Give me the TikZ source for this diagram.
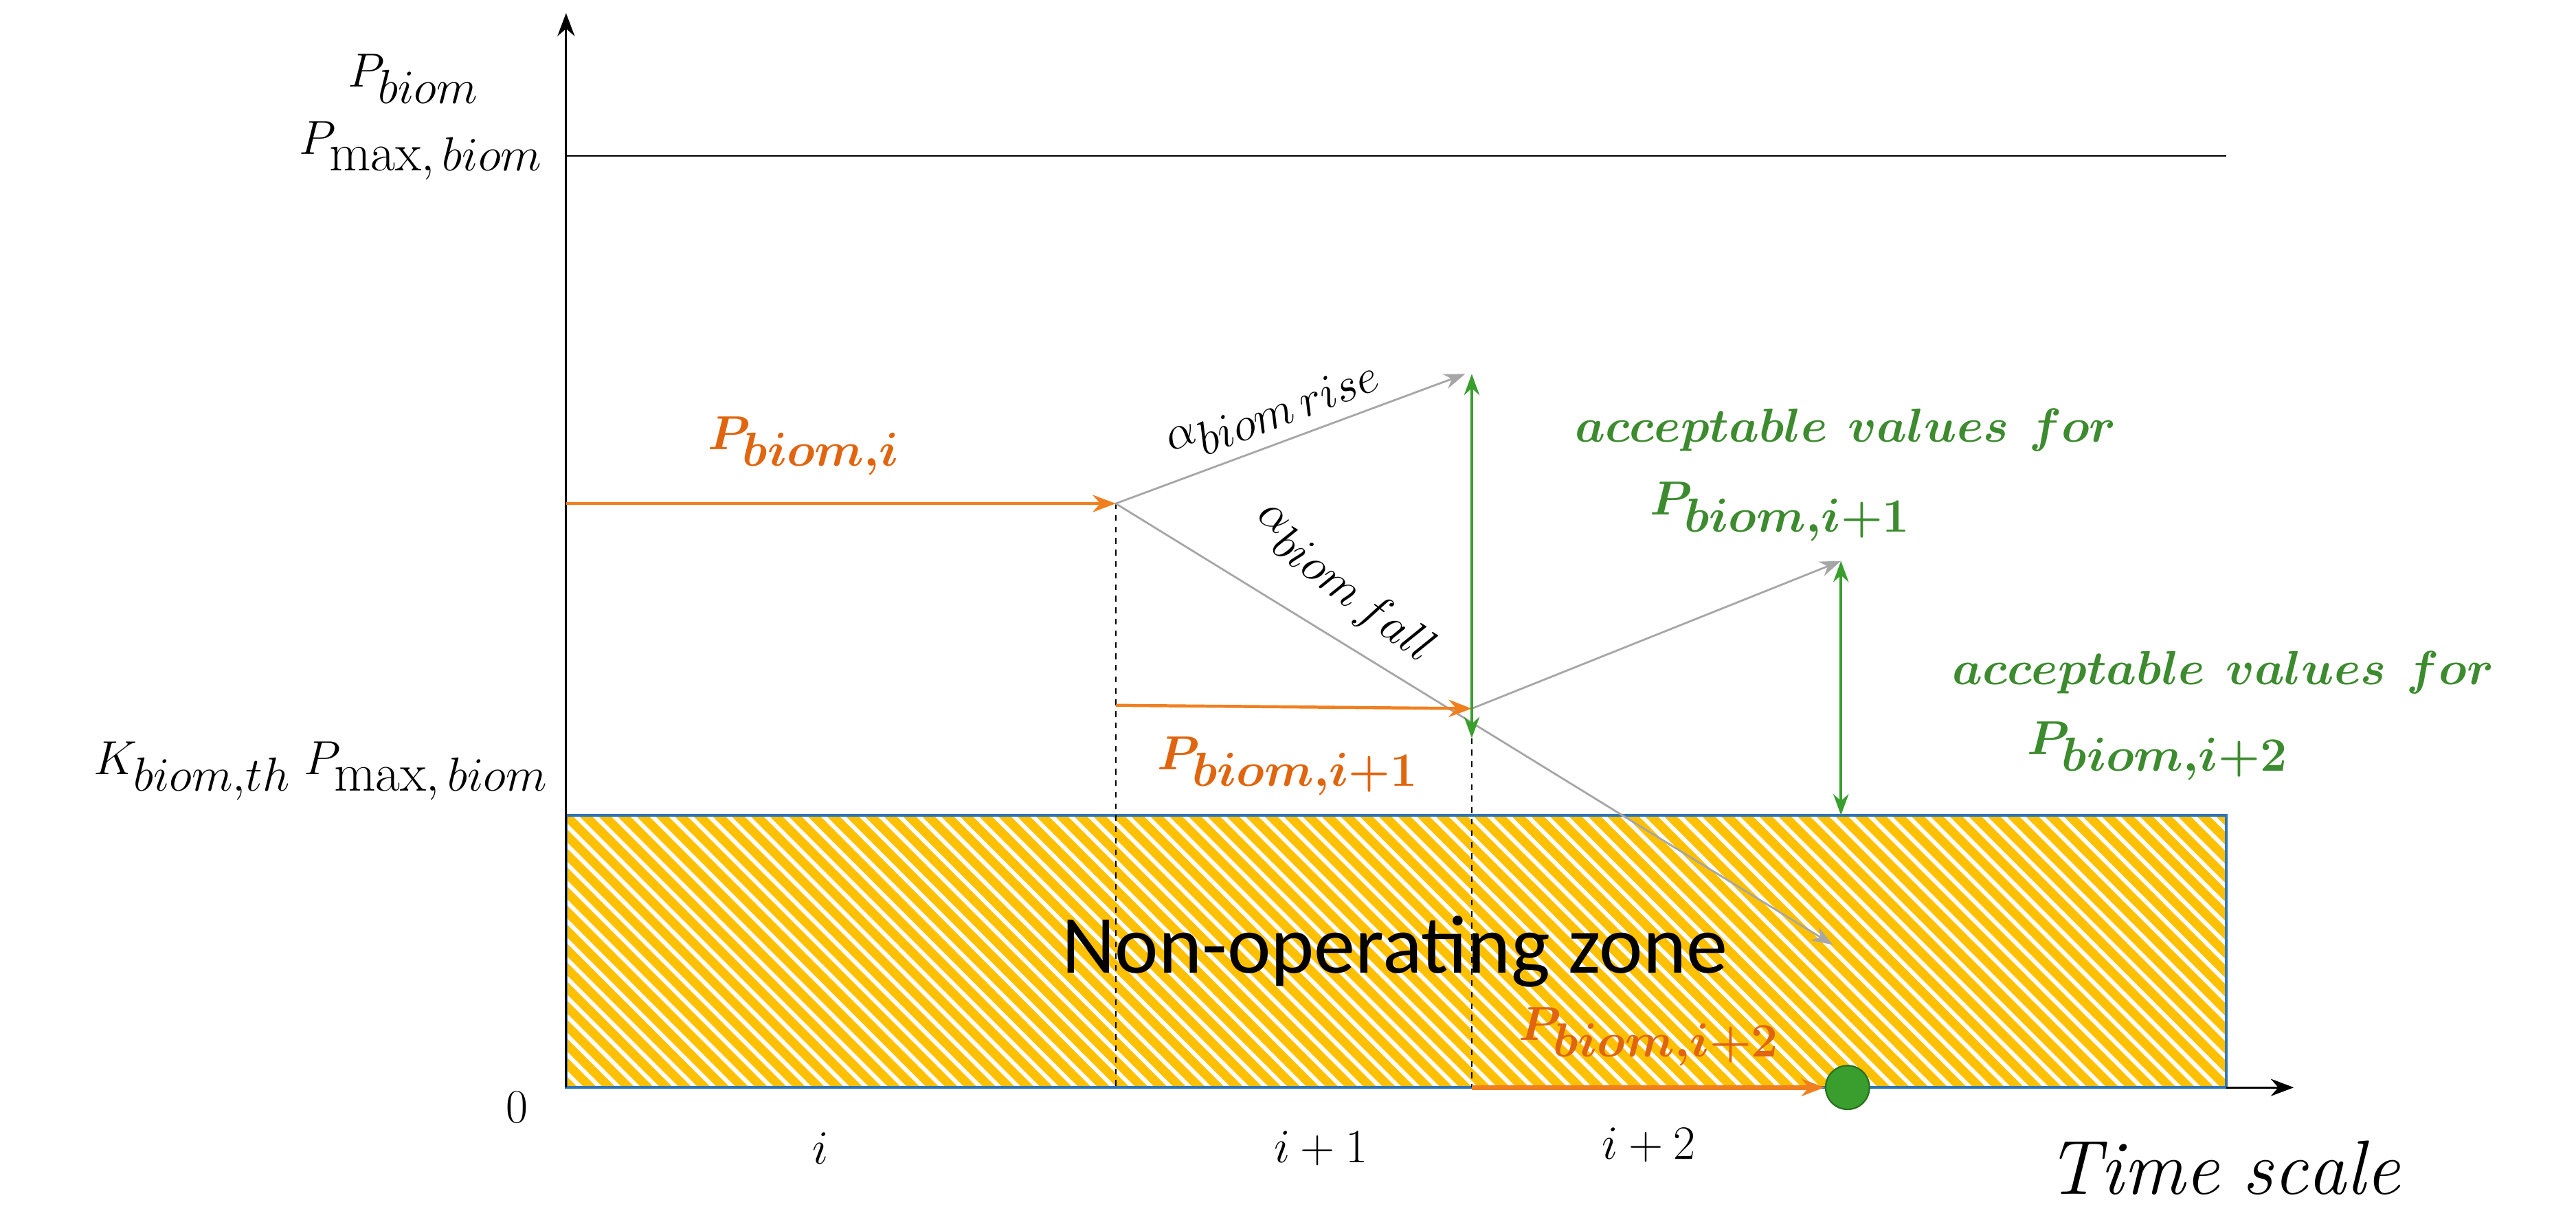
\documentclass[tikz,border=0pt]{standalone}
\usepackage{amsmath,bm}
\usepackage{fontspec}
\newfontfamily\calib{Carlito}
\usetikzlibrary{patterns.meta,arrows.meta}
\definecolor{org}{HTML}{F07F20}
\definecolor{orgt}{HTML}{E0650E}
\definecolor{grn}{HTML}{3A9E2E}
\definecolor{grnt}{HTML}{3D8B2F}
\definecolor{yel}{HTML}{FFC000}
\definecolor{blu}{HTML}{2E75B6}
\begin{document}
\begin{tikzpicture}[x=0.03cm,y=-0.03cm,
  lab/.style={font=\fontsize{40}{44}\selectfont},
  olab/.style={font=\fontsize{37}{40}\selectfont,text=orgt},
  glab/.style={font=\fontsize{35}{38}\selectfont,text=grnt},
  oarr/.style={draw=org,line width=1.6pt,-{Stealth[length=12pt,width=9pt]}},
  garr/.style={draw=grn,line width=1.4pt,{Stealth[length=11pt,width=8pt]}-{Stealth[length=11pt,width=8pt]}},
  gyarr/.style={draw=gray!70,line width=1pt,-{Stealth[length=11pt,width=8pt]}},
  dsh/.style={dashed,line width=0.8pt}]
\useasboundingbox (0,0) rectangle (1570,738);
% zone
\fill[yel] (345,497) rectangle (1357,663);
\fill[pattern={Lines[angle=-45,distance=7pt,line width=2.2pt]},pattern color=white] (345,497) rectangle (1357,663);
\draw[blu,line width=1.4pt] (345,497) rectangle (1357,663);
% axes
\coordinate (o) at (345,663);
\coordinate (yt) at (345,8);
\coordinate (xt) at (1398,663);
\draw[line width=1pt,-{Stealth[length=12pt,width=9pt]}] (o) -- (yt);
\draw[line width=1pt,-{Stealth[length=12pt,width=9pt]}] (1357,663) -- (xt);
\coordinate (m1) at (345,95); \coordinate (m2) at (1357,95);
\draw[line width=0.9pt] (m1) -- (m2);
% points
\coordinate (a0) at (345,307);
\coordinate (a) at (680,307);
\coordinate (ab) at (680,663);
\coordinate (b0) at (680,430);
\coordinate (b) at (897,432);
\coordinate (bt) at (897,450);
\coordinate (bb) at (897,663);
\coordinate (r1) at (893,228);
\coordinate (g1t) at (897,228);
\coordinate (f1) at (1117,576);
\coordinate (r2) at (1122,342);
\coordinate (g2b) at (1122,497);
\coordinate (c) at (1112,663);
\draw[dsh] (a) -- (ab);
\draw[dsh] (bt) -- (bb);
\draw[gyarr] (a) -- (r1);
\draw[gyarr] (a) -- (f1);
\draw[gyarr] (b) -- (r2);
\draw[oarr] (a0) -- (a);
\draw[oarr] (b0) -- (b);
\draw[oarr,line width=2.5pt] (bb) -- (c);
\draw[garr] (g1t) -- (bt);
\draw[garr] (r2) -- (g2b);
\node[circle,fill=grn,draw=grn!70!black,line width=0.8pt,inner sep=0,minimum size=0.8cm] (dot) at (1126,663) {};
% labels
\node[lab] (pb) at (252,48) {$P_{biom}$};
\node[lab,anchor=east] (pm) at (335,92) {$P_{\max,\,biom}$};
\node[lab,anchor=east] (k) at (338,470) {$K_{biom,th}\;P_{\max,\,biom}$};
\node[lab] (z) at (315,675) {$0$};
\node[lab] (ti) at (500,700) {$i$};
\node[lab] (ti1) at (805,700) {$i+1$};
\node[lab] (ti2) at (1005,698) {$i+2$};
\node[lab] (ts) at (1355,712) {$\mathit{Time\ scale}$};
\node[font=\calib\fontsize{43}{46}\selectfont] (nz) at (850,580) {Non-operating zone};
\node[olab] (l1) at (490,272) {$\bm{P_{biom,i}}$};
\node[olab] (l2) at (785,467) {$\bm{P_{biom,i+1}}$};
\node[olab] (l3) at (1005,632) {$\bm{P_{biom,i+2}}$};
\node[lab,rotate=21] (ar) at (776,250) {$\alpha_{biom\,rise}$};
\node[lab,rotate=-37] (af) at (818,358) {$\alpha_{biom\,fall}$};
\node[glab] (g1) at (1125,262) {$\bm{acceptable\ values\ for}$};
\node[glab] (g1b) at (1085,312) {$\bm{P_{biom,i+1}}$};
\node[glab] (g2) at (1355,410) {$\bm{acceptable\ values\ for}$};
\node[glab] (g2c) at (1315,458) {$\bm{P_{biom,i+2}}$};
\end{tikzpicture}
\end{document}
